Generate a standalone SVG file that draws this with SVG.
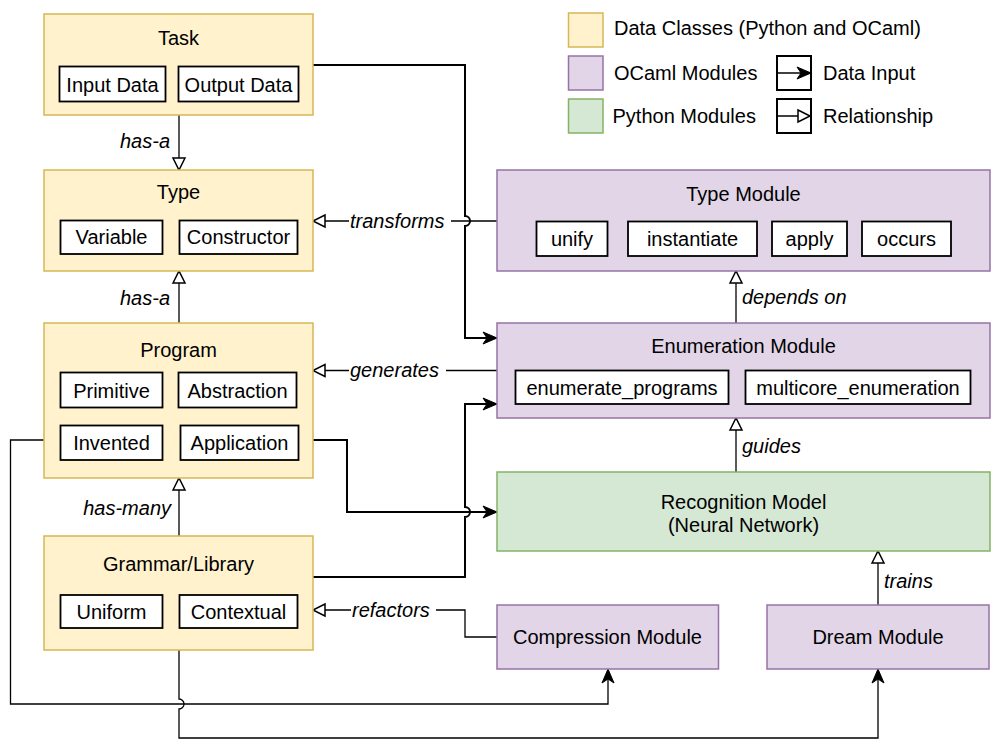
<svg xmlns="http://www.w3.org/2000/svg" width="1000" height="749" viewBox="0 0 1000 749">
<style>
text{font-family:"Liberation Sans",Helvetica,Arial,sans-serif;font-size:20px;fill:#000}
.c{text-anchor:middle}
.lbl{font-style:italic}
.end{text-anchor:end}
.data{fill:#fff2cc;stroke:#d6b656;stroke-width:1.5}
.ocaml{fill:#e1d5e7;stroke:#9673a6;stroke-width:1.5}
.py{fill:#d5e8d4;stroke:#82b366;stroke-width:1.5}
.inner{fill:#fff;stroke:#000;stroke-width:1.8}
.lg{fill:#fff;stroke:#000;stroke-width:2}
.e{fill:none;stroke:#000}
.d2{stroke-width:2;marker-end:url(#fa)}
.d1{stroke-width:1.3;marker-end:url(#fa)}
.r{stroke-width:1.3;marker-end:url(#oa)}
</style>
<defs>
<marker id="fa" markerUnits="userSpaceOnUse" markerWidth="16" markerHeight="14" refX="14" refY="6" orient="auto" viewBox="0 0 16 14" overflow="visible">
<path d="M0,0 L14,6 L0,12 L4,6 Z" fill="#000" stroke="#000" stroke-width="1"/>
</marker>
<marker id="oa" markerUnits="userSpaceOnUse" markerWidth="14" markerHeight="14" refX="12.5" refY="6" orient="auto" viewBox="0 0 14 14" overflow="visible">
<path d="M0.5,0 L12.5,6 L0.5,12 Z" fill="#fff" stroke="#000" stroke-width="1.5"/>
</marker>
</defs>
<rect width="1000" height="749" fill="#fff"/>

<g id="legend">
<rect x="568.5" y="13" width="34.5" height="34" class="data"/>
<rect x="568.5" y="56" width="34.5" height="34" class="ocaml"/>
<rect x="568.5" y="99" width="34.5" height="34" class="py"/>
<text x="614" y="35">Data Classes (Python and OCaml)</text>
<text x="614" y="79.5">OCaml Modules</text>
<text x="612.5" y="122.5">Python Modules</text>
<rect x="777" y="56" width="34" height="34" class="lg"/>
<path d="M777,73 L811,73" class="e d1" stroke-width="2"/>
<text x="823" y="79.5">Data Input</text>
<rect x="777" y="99" width="34" height="34" class="lg"/>
<path d="M777,116 L810,116" class="e r"/>
<text x="823" y="122.5">Relationship</text>
</g>

<g id="connectors">
<path d="M313,65 L465,65 L465,216 A5,5 0 0 1 465,226 L465,338 L497,338" class="e d2"/>
<path d="M497,221 L451,221 M349,221 L313,221" class="e r"/>
<path d="M179,115 L179,170" class="e r"/>
<path d="M179,323 L179,271" class="e r"/>
<path d="M179,536 L179,478" class="e r"/>
<path d="M497,370.5 L446,370.5 M349,370.5 L313,370.5" class="e r"/>
<path d="M313,577 L465,577 L465,517 A5,5 0 0 0 465,507 L465,404 L497,404" class="e d2"/>
<path d="M313,440 L347,440 L347,512 L497,512" class="e d2"/>
<path d="M44,440 L10.5,440 L10.5,704 L608,704 L608,669" class="e d1"/>
<path d="M179,650 L179,699 A5,5 0 0 1 179,709 L179,738 L878,738 L878,669" class="e d1" stroke-width="1.6"/>
<path d="M497,637 L465,637 L465,610 L436,610 M351,610 L313,610" class="e r"/>
<path d="M736,323 L736,271" class="e r"/>
<path d="M736,472 L736,418" class="e r"/>
<path d="M878,605 L878,551" class="e r"/>
<text x="170" y="147.5" class="lbl end">has-a</text>
<text x="170" y="304.5" class="lbl end">has-a</text>
<text x="171" y="514.5" class="lbl end">has-many</text>
<text x="350" y="228" class="lbl">transforms</text>
<text x="350" y="377" class="lbl">generates</text>
<text x="352" y="617" class="lbl">refactors</text>
<text x="742" y="304" class="lbl">depends on</text>
<text x="742" y="453" class="lbl">guides</text>
<text x="884" y="588" class="lbl">trains</text>
</g>

<g id="task">
<rect x="44" y="14" width="269" height="101" class="data"/>
<text x="178.5" y="45" class="c">Task</text>
<rect x="59.5" y="66.5" width="106" height="35" class="inner"/>
<text x="112.5" y="91.5" class="c">Input Data</text>
<rect x="178.5" y="66.5" width="120" height="35" class="inner"/>
<text x="238.5" y="91.5" class="c">Output Data</text>
</g>

<g id="type">
<rect x="44" y="170" width="269" height="101" class="data"/>
<text x="178.5" y="199" class="c">Type</text>
<rect x="60.5" y="220.5" width="102" height="33.5" class="inner"/>
<text x="111.5" y="244" class="c">Variable</text>
<rect x="179.5" y="220.5" width="118" height="33.5" class="inner"/>
<text x="238.5" y="244" class="c">Constructor</text>
</g>

<g id="program">
<rect x="44" y="323" width="269" height="155" class="data"/>
<text x="178.5" y="357" class="c">Program</text>
<rect x="60.5" y="372.5" width="102" height="35" class="inner"/>
<text x="111.5" y="397.5" class="c">Primitive</text>
<rect x="178.5" y="372.5" width="118" height="35" class="inner"/>
<text x="237.5" y="397.5" class="c">Abstraction</text>
<rect x="60.5" y="425.5" width="102" height="34.5" class="inner"/>
<text x="111.5" y="450" class="c">Invented</text>
<rect x="180.5" y="425.5" width="118" height="34.5" class="inner"/>
<text x="239.5" y="450" class="c">Application</text>
</g>

<g id="grammar">
<rect x="44" y="536" width="269" height="114" class="data"/>
<text x="178.5" y="570.5" class="c">Grammar/Library</text>
<rect x="60.5" y="595" width="102" height="33" class="inner"/>
<text x="111.5" y="618.5" class="c">Uniform</text>
<rect x="179.5" y="595" width="118" height="33" class="inner"/>
<text x="238.5" y="618.5" class="c">Contextual</text>
</g>

<g id="type-module">
<rect x="497" y="170" width="493" height="101" class="ocaml"/>
<text x="743.5" y="201" class="c">Type Module</text>
<rect x="536.5" y="221.5" width="71" height="34.5" class="inner"/>
<text x="572" y="246" class="c">unify</text>
<rect x="628" y="221.5" width="129" height="34.5" class="inner"/>
<text x="692.5" y="246" class="c">instantiate</text>
<rect x="772" y="221.5" width="75" height="34.5" class="inner"/>
<text x="809.5" y="246" class="c">apply</text>
<rect x="862" y="221.5" width="89" height="34.5" class="inner"/>
<text x="906.5" y="246" class="c">occurs</text>
</g>

<g id="enumeration-module">
<rect x="497" y="323" width="493" height="95" class="ocaml"/>
<text x="743.5" y="352.5" class="c">Enumeration Module</text>
<rect x="515.5" y="370.5" width="213" height="33.5" class="inner"/>
<text x="622" y="394.5" class="c">enumerate_programs</text>
<rect x="745.5" y="370.5" width="225" height="33.5" class="inner"/>
<text x="858" y="394.5" class="c">multicore_enumeration</text>
</g>

<g id="recognition-model">
<rect x="497" y="472" width="493" height="79" class="py"/>
<text x="743.5" y="508.5" class="c">Recognition Model</text>
<text x="743.5" y="531.5" class="c">(Neural Network)</text>
</g>

<g id="compression-module">
<rect x="497" y="605" width="221.5" height="64" class="ocaml"/>
<text x="607.5" y="644" class="c">Compression Module</text>
</g>

<g id="dream-module">
<rect x="767" y="605" width="222" height="64" class="ocaml"/>
<text x="878" y="644" class="c">Dream Module</text>
</g>
</svg>
